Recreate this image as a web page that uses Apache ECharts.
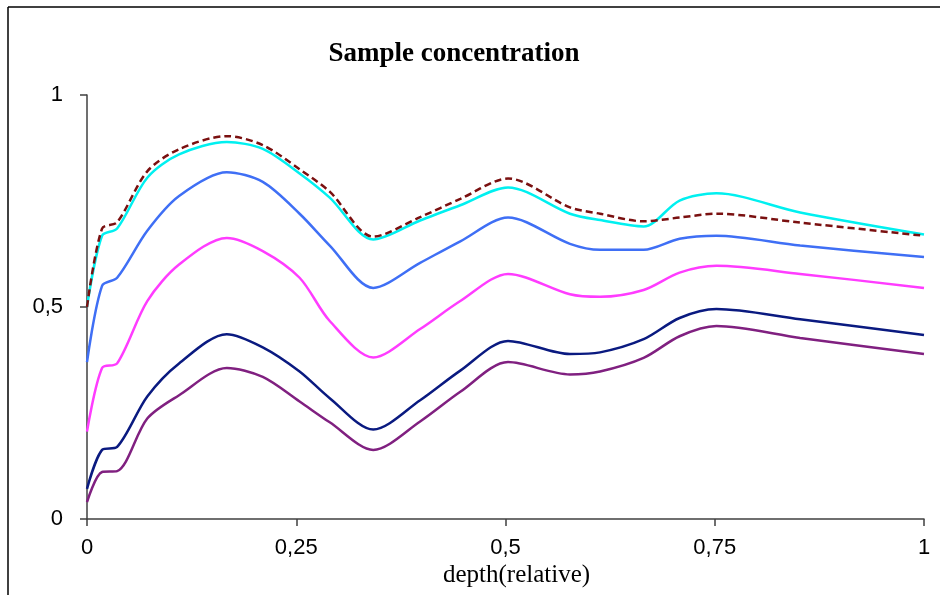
<!DOCTYPE html>
<html>
<head>
<meta charset="utf-8">
<script src="https://cdn.jsdelivr.net/npm/echarts@6/dist/echarts.min.js"></script>
<style>
  html, body { margin: 0; padding: 0; background: #fff; }
  #main { width: 948px; height: 595px; }
</style>
</head>
<body>
<div id="main"></div>
<script>
// depth positions (relative)
var depth = [0, 0.018, 0.036, 0.072, 0.11, 0.167, 0.21, 0.254, 0.29, 0.342,
  0.398, 0.446, 0.503, 0.577, 0.613, 0.665, 0.708, 0.752, 0.852, 1];

// concentration curves, top to bottom
var dashedRed = [0.50, 0.685, 0.70, 0.82, 0.872, 0.903, 0.882, 0.825, 0.772, 0.666,
  0.712, 0.755, 0.803, 0.735, 0.72, 0.702, 0.711, 0.72, 0.699, 0.668];
var cyanLine = [0.50, 0.668, 0.685, 0.805, 0.86, 0.889, 0.873, 0.815, 0.758, 0.659,
  0.704, 0.74, 0.782, 0.72, 0.705, 0.69, 0.751, 0.768, 0.723, 0.671];
var blueLine = [0.37, 0.55, 0.569, 0.68, 0.762, 0.818, 0.795, 0.72, 0.645, 0.545,
  0.604, 0.655, 0.711, 0.649, 0.635, 0.635, 0.661, 0.668, 0.645, 0.618];
var magentaLine = [0.206, 0.356, 0.367, 0.514, 0.60, 0.663, 0.632, 0.569, 0.467, 0.381,
  0.448, 0.514, 0.578, 0.53, 0.524, 0.54, 0.581, 0.597, 0.578, 0.545];
var navyLine = [0.071, 0.163, 0.17, 0.289, 0.367, 0.436, 0.405, 0.348, 0.285, 0.211,
  0.28, 0.35, 0.42, 0.389, 0.393, 0.424, 0.474, 0.495, 0.471, 0.434];
var purpleLine = [0.04, 0.111, 0.113, 0.237, 0.292, 0.356, 0.335, 0.277, 0.228, 0.163,
  0.23, 0.30, 0.37, 0.341, 0.348, 0.38, 0.431, 0.455, 0.427, 0.389];

function pairs(vals) {
  return depth.map(function (d, i) { return [d, vals[i]]; });
}

function comma(v) {
  return String(v).replace('.', ',');
}

var chart = echarts.init(document.getElementById('main'));

function line(name, vals, color, dashed) {
  return {
    name: name,
    type: 'line',
    data: pairs(vals),
    smooth: 0.3,
    symbol: 'none',
    lineStyle: {
      color: color,
      width: 2.5,
      type: dashed ? [7, 4] : 'solid'
    },
    z: dashed ? 5 : 3
  };
}

var option = {
  backgroundColor: '#fff',
  animation: false,
  title: {
    text: 'Sample concentration',
    left: 449,
    textAlign: 'center',
    top: 36,
    textStyle: {
      fontFamily: 'Liberation Serif',
      fontWeight: 'bold',
      fontSize: 27,
      color: '#000'
    }
  },
  grid: {
    left: 87,
    top: 95,
    right: 24,
    bottom: 76
  },
  xAxis: {
    type: 'value',
    min: 0,
    max: 1,
    interval: 0.25,
    axisLine: { show: true, lineStyle: { color: '#404040', width: 1.5 } },
    axisTick: { show: true, length: 7, lineStyle: { color: '#404040', width: 1.5 } },
    axisLabel: {
      formatter: comma,
      margin: 18,
      fontFamily: 'Liberation Sans',
      fontSize: 22,
      color: '#000'
    },
    splitLine: { show: false }
  },
  yAxis: {
    type: 'value',
    min: 0,
    max: 1,
    interval: 0.5,
    axisLine: { show: true, lineStyle: { color: '#404040', width: 1.5 } },
    axisTick: { show: true, length: 7, lineStyle: { color: '#404040', width: 1.5 } },
    axisLabel: {
      formatter: comma,
      margin: 24,
      fontFamily: 'Liberation Sans',
      fontSize: 22,
      color: '#000'
    },
    splitLine: { show: false }
  },
  graphic: [
    {
      type: 'line',
      shape: { x1: 8, y1: 7, x2: 940, y2: 7 },
      style: { stroke: '#000', lineWidth: 1.5 }
    },
    {
      type: 'line',
      shape: { x1: 8, y1: 7, x2: 8, y2: 595 },
      style: { stroke: '#000', lineWidth: 1.5 }
    },
    {
      type: 'text',
      left: 443,
      top: 563,
      style: {
        text: 'depth(relative)',
        fontFamily: 'Liberation Serif',
        fontSize: 25,
        fill: '#000'
      }
    }
  ],
  series: [
    line('s6', purpleLine, '#802080', false),
    line('s5', navyLine, '#0a1a80', false),
    line('s4', magentaLine, '#ff3cff', false),
    line('s3', blueLine, '#3f6ff5', false),
    line('s2', cyanLine, '#00f0f0', false),
    line('s1', dashedRed, '#7a1010', true)
  ]
};

chart.setOption(option);
</script>
</body>
</html>
